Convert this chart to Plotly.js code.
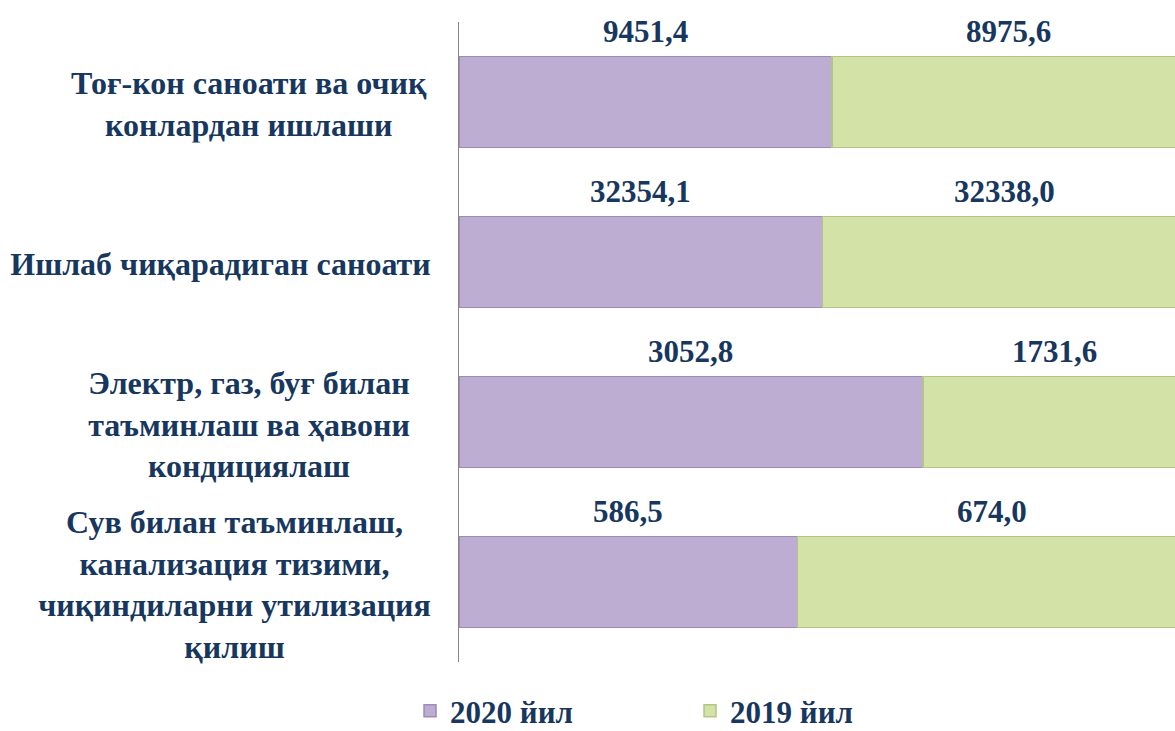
<!DOCTYPE html>
<html>
<head>
<meta charset="utf-8">
<script src="https://cdn.plot.ly/plotly-3.0.1.min.js"></script>
<style>html,body{margin:0;padding:0;background:#fff;}#chart{width:1175px;height:731px;}</style>
</head>
<body>
<div id="chart"></div>
<script>
var categories = [
  "Тоғ-кон саноати ва очиқ<br>конлардан ишлаши",
  "Ишлаб чиқарадиган саноати",
  "Электр, газ, буғ билан<br>таъминлаш ва ҳавони<br>кондициялаш",
  "Сув билан таъминлаш,<br>канализация тизими,<br>чиқиндиларни утилизация<br>қилиш"
];
var series2020 = [9451.4, 32354.1, 3052.8, 586.5];
var series2019 = [8975.6, 32338.0, 1731.6, 674.0];
var seriesNames = ["2020 йил", "2019 йил"];

var navy = "#17375E";
var font = "Liberation Serif";
var labelSize = 32;

function fmt(v){ return v.toFixed(1).replace('.', ','); }

// measure label text to size the centred label box
var ctx = document.createElement('canvas').getContext('2d');
ctx.font = 'bold ' + labelSize + 'px "Liberation Serif"';
function boxWidth(txt){
  var w = 0;
  txt.split('<br>').forEach(function(line){ w = Math.max(w, ctx.measureText(line).width); });
  return Math.max(372, Math.ceil(w) + 8);
}

var traces = [
  {type:'bar', orientation:'h', name:seriesNames[0], y:categories, x:series2020,
   marker:{color:'#BEADD3', line:{color:'#9D8CB5', width:1.5}}, hoverinfo:'x+name'},
  {type:'bar', orientation:'h', name:seriesNames[1], y:categories, x:series2019,
   marker:{color:'#D3E2A7', line:{color:'#B3C486', width:1.5}}, hoverinfo:'x+name'}
];

var annotations = [];
categories.forEach(function(c, i){
  var tot = series2020[i] + series2019[i];
  var p1 = series2020[i] / tot * 100;
  annotations.push({xref:'x', yref:'y', x:p1/2, y:c, yshift:71, text:fmt(series2020[i]),
    showarrow:false, font:{family:font, size:31, color:navy, weight:'bold'}});
  annotations.push({xref:'x', yref:'y', x:p1 + (100-p1)/2, y:c, yshift:71, text:fmt(series2019[i]),
    showarrow:false, font:{family:font, size:31, color:navy, weight:'bold'}});
  annotations.push({xref:'paper', yref:'y', x:0, xshift:-22, y:c, yshift:-2,
    xanchor:'right', yanchor:'middle', width:boxWidth(c),
    align:'center', text:c, showarrow:false,
    font:{family:font, size:labelSize, color:navy, weight:'bold'}});
});

var layout = {
  width:1175, height:731,
  margin:{l:459, r:0, t:22, b:69, autoexpand:false},
  font:{family:font, color:navy},
  paper_bgcolor:'#fff', plot_bgcolor:'#fff',
  barmode:'stack', barnorm:'percent', bargap:0.43,
  xaxis:{range:[0, 98.49], autorange:false, visible:false, fixedrange:true},
  yaxis:{type:'category', range:[3.5, -0.5], autorange:false, showticklabels:false, ticks:'',
         showline:true, linecolor:'#868686', linewidth:1, showgrid:false, zeroline:false},
  showlegend:true,
  legend:{orientation:'h', x:-0.0684, xanchor:'left', y:-0.0768, yanchor:'middle',
          entrywidth:235, traceorder:'normal',
          font:{family:font, size:31, color:navy, weight:'bold'}},
  annotations:annotations
};

Plotly.newPlot('chart', traces, layout, {displayModeBar:false, staticPlot:true});
</script>
</body>
</html>
